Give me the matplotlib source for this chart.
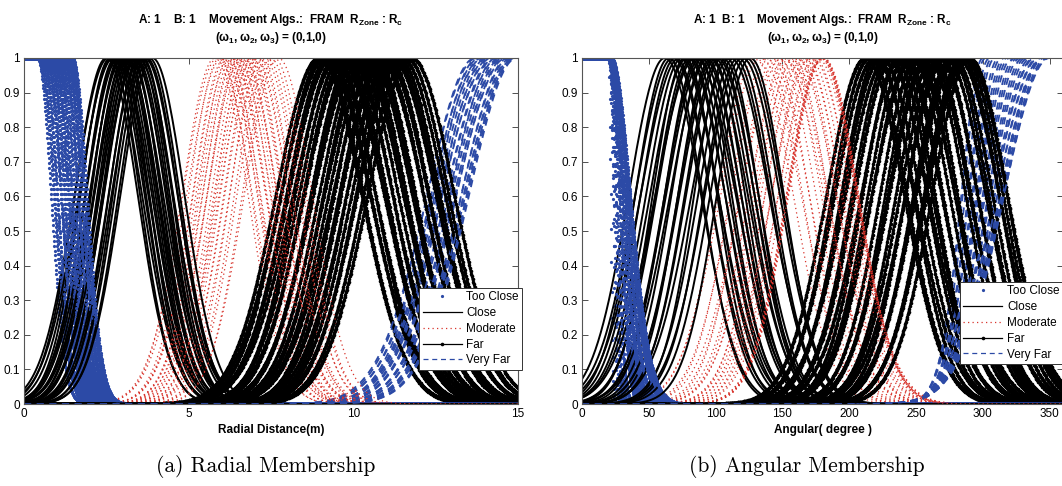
import numpy as np
import matplotlib
matplotlib.use('Agg')
import matplotlib.pyplot as plt

plt.rcParams['font.family'] = ['Liberation Sans', 'DejaVu Sans']
plt.rcParams['mathtext.fontset'] = 'custom'
plt.rcParams['mathtext.rm'] = 'Liberation Sans:bold'
plt.rcParams['mathtext.it'] = 'Liberation Sans:bold'
plt.rcParams['mathtext.bf'] = 'Liberation Sans:bold'

BLUE = '#2c4aa6'
RED = '#d8332b'

# ---- radial membership parameters (centre / spread per robot) ----
rad_tooclose_c = [0.42, 0.46, 0.52, 0.57, 0.62, 0.66, 0.70, 0.74, 0.78, 0.82, 0.86, 0.90, 0.94, 0.98,
                  1.02, 1.06, 1.10, 1.14, 1.18, 1.22, 1.25, 1.29, 1.32, 1.35, 1.38, 1.41, 1.44, 1.47]
rad_tooclose_s = [0.40, 0.44, 0.41, 0.43, 0.39, 0.45, 0.42, 0.40, 0.44, 0.41, 0.43, 0.46, 0.40, 0.42,
                  0.44, 0.39, 0.43, 0.41, 0.45, 0.42, 0.40, 0.44, 0.43, 0.41, 0.45, 0.42, 0.43, 0.44]
rad_close_c = [2.50, 2.56, 2.62, 2.68, 2.72, 2.78, 2.83, 2.88, 2.92, 2.97, 3.02, 3.06, 3.10, 3.14,
               3.18, 3.22, 3.27, 3.31, 3.36, 3.40, 3.45, 3.50, 3.55, 3.60, 3.66, 3.72, 3.80, 3.90]
rad_close_s = [0.95, 1.02, 0.90, 0.98, 1.05, 0.92, 0.97, 1.00, 0.88, 0.96, 1.03, 0.93, 0.99, 0.91,
               1.04, 0.95, 0.89, 1.01, 0.94, 0.97, 1.06, 0.92, 0.98, 0.90, 1.00, 0.95, 0.93, 0.97]
rad_moderate_c = [5.80, 5.88, 5.95, 6.02, 6.10, 6.16, 6.22, 6.28, 6.34, 6.40, 6.46, 6.52, 6.58, 6.63,
                  6.68, 6.74, 6.80, 6.86, 6.92, 6.98, 7.05, 7.12, 7.20, 7.28, 7.38, 7.48, 7.60, 7.72]
rad_moderate_s = [1.00, 1.05, 0.95, 1.08, 0.98, 1.02, 0.94, 1.06, 1.00, 0.97, 1.04, 0.96, 1.01, 1.07,
                  0.99, 0.93, 1.03, 1.00, 0.96, 1.05, 0.98, 1.02, 0.95, 1.04, 0.99, 1.01, 0.97, 1.03]
rad_far_c = [8.95, 9.05, 9.15, 9.25, 9.35, 9.45, 9.55, 9.65, 9.75, 9.85, 9.95, 10.05, 10.15, 10.25,
             10.35, 10.45, 10.55, 10.65, 10.75, 10.85, 10.95, 11.05, 11.15, 11.25, 11.35, 11.45, 11.60, 11.75]
rad_far_s = [1.30, 1.25, 1.35, 1.28, 1.32, 1.22, 1.38, 1.30, 1.27, 1.34, 1.24, 1.31, 1.36, 1.29,
             1.26, 1.33, 1.30, 1.23, 1.37, 1.28, 1.32, 1.25, 1.35, 1.30, 1.27, 1.33, 1.29, 1.31]
rad_veryfar_c = [13.70, 13.75, 13.80, 13.85, 13.90, 13.95, 14.00, 14.05, 14.10, 14.15, 14.20, 14.25, 14.30, 14.35,
                 14.40, 14.45, 14.50, 14.55, 14.60, 14.65, 14.70, 14.75, 14.80, 14.85, 14.88, 14.91, 14.94, 14.97]
rad_veryfar_s = [1.45, 1.50, 1.40, 1.48, 1.42, 1.52, 1.46, 1.41, 1.49, 1.44, 1.51, 1.43, 1.47, 1.40,
                 1.50, 1.45, 1.42, 1.48, 1.46, 1.53, 1.41, 1.47, 1.44, 1.49, 1.43, 1.50, 1.46, 1.45]

# ---- angular membership parameters (degrees) ----
ang_tooclose_c = [20, 21, 21, 22, 20, 21, 22, 21, 20, 22, 21, 21, 22, 20,
                  21, 22, 21, 20, 21, 22, 21, 20, 22, 21, 21, 22, 20, 21]
ang_tooclose_s = [1.5, 2.2, 2.6, 3.1, 3.8, 4.1, 4.7, 5.2, 5.5, 6.3, 6.6, 7.2, 7.4, 8.1,
                  8.6, 9.0, 9.7, 10.1, 10.4, 11.2, 11.5, 12.1, 12.6, 13.0, 13.4, 14.1, 14.4, 15.0]
ang_close_c = [62, 65, 68, 70, 73, 75, 77, 79, 81, 83, 85, 87, 89, 91,
               93, 95, 97, 99, 101, 103, 105, 108, 111, 114, 117, 120, 123, 126]
ang_close_s = [27, 25, 28, 26, 29, 27, 24, 28, 26, 27, 30, 25, 27, 28,
               26, 29, 25, 27, 28, 26, 27, 24, 29, 27, 26, 28, 27, 25]
ang_moderate_c = [130, 134, 138, 141, 144, 147, 150, 152, 154, 156, 158, 160, 162, 164,
                  166, 168, 170, 172, 174, 176, 178, 179.5, 180, 180.5, 179, 181, 180, 180.3]
ang_moderate_s = [28, 30, 27, 29, 26, 28, 31, 27, 29, 28, 26, 30, 28, 27,
                  29, 26, 28, 30, 27, 29, 28, 26.5, 26, 26.3, 25.8, 26.2, 26.6, 25.9]
ang_far_c = [212, 215, 219, 221, 224, 228, 230, 233, 237, 239, 242, 246, 248, 251,
             254, 258, 260, 263, 267, 269, 272, 276, 278, 281, 284, 286, 288, 290]
ang_far_s = [29, 28, 30, 27, 29, 31, 28, 29, 27, 30, 28, 29, 31, 28,
             27, 29, 30, 28, 29, 27, 30, 28, 29, 31, 28, 29, 30, 28]
ang_veryfar_c = [300, 302, 305, 307, 309, 312, 314, 316, 318, 320, 322, 324, 326, 328,
                 330, 332, 334, 336, 338, 339, 341, 342, 344, 345, 346, 348, 349, 350]
ang_veryfar_s = [16, 17, 18, 18, 19, 20, 21, 21, 22, 23, 24, 24, 25, 26,
                 26, 27, 28, 28, 29, 30, 30, 31, 31, 32, 32, 33, 33, 34]


def gauss(x, c, s):
    return np.exp(-(x - c) ** 2 / (2.0 * s ** 2))


def z_mf(x, c, s):
    y = gauss(x, c, s)
    y[x <= c] = 1.0
    return y


def s_mf(x, c, s):
    y = gauss(x, c, s)
    y[x >= c] = 1.0
    return y


def draw_panel(ax, x, xmid, xfine, tc, cl, md, fr, vf):
    h = {}
    for i in range(len(tc[0])):
        h['tc'], = ax.plot(xfine, z_mf(xfine, tc[0][i], tc[1][i]), ls='none', marker='o',
                           ms=2.3, mew=0, color=BLUE)
        h['cl'], = ax.plot(x, gauss(x, cl[0][i], cl[1][i]), '-', lw=1.4, color='k')
        h['md'], = ax.plot(x, gauss(x, md[0][i], md[1][i]), ls=(0, (1, 2.6)), lw=0.9, color=RED)
        h['fr'], = ax.plot(xmid, gauss(xmid, fr[0][i], fr[1][i]), '-', marker='o', ms=2.6,
                           mew=0, lw=1.6, color='k')
        h['vf'], = ax.plot(x, s_mf(x, vf[0][i], vf[1][i]), ls=(0, (4, 3)), lw=1.3, color=BLUE)
    return h


def style_axes(ax, xmax, xticks):
    ax.set_xlim(0, xmax)
    ax.set_ylim(0, 1)
    ax.set_xticks(xticks)
    ax.set_yticks(np.arange(0, 1.01, 0.1))
    ax.set_yticklabels(['0', '0.1', '0.2', '0.3', '0.4', '0.5', '0.6', '0.7', '0.8', '0.9', '1'])
    ax.tick_params(direction='in', top=True, right=True, length=4, width=0.6,
                   labelsize=8.5, pad=3, color='#333333')
    for sp in ax.spines.values():
        sp.set_color('#555555')
        sp.set_linewidth(0.8)


def add_legend(ax, h, anchor):
    leg = ax.legend([h['tc'], h['cl'], h['md'], h['fr'], h['vf']],
                    ['Too Close', 'Close', 'Moderate', 'Far', 'Very Far'],
                    loc='upper left', bbox_to_anchor=anchor, numpoints=1, fontsize=8.5,
                    handlelength=3.3, handletextpad=0.4, labelspacing=0.32, borderpad=0.3,
                    fancybox=False, framealpha=1, edgecolor='#333333')
    leg.get_frame().set_linewidth(0.7)
    for ln in leg.get_lines():
        ln.set_linewidth(0.9)
    leg.set_zorder(10)


fig = plt.figure(figsize=(10.62, 4.86), dpi=100)
ax1 = fig.add_axes([24 / 1062, 1 - 404 / 486, 494 / 1062, 346 / 486])
ax2 = fig.add_axes([582 / 1062, 1 - 404 / 486, 481 / 1062, 346 / 486])

xr = np.linspace(0, 15, 301)
xr_mid = np.linspace(0, 15, 751)
xr_fine = np.linspace(0, 15, 1501)
h1 = draw_panel(ax1, xr, xr_mid, xr_fine,
                (rad_tooclose_c, rad_tooclose_s), (rad_close_c, rad_close_s),
                (rad_moderate_c, rad_moderate_s), (rad_far_c, rad_far_s),
                (rad_veryfar_c, rad_veryfar_s))
style_axes(ax1, 15, [0, 5, 10, 15])
add_legend(ax1, h1, (0.788, 0.353))
ax1.set_xlabel('Radial Distance(m)', fontsize=8.5, fontweight='bold')
ax1.xaxis.set_label_coords(0.5, -0.058)
ax1.text(0.5, 1.110, r'A: 1    B: 1    Movement Algs.:  FRAM  $R_{Zone}$ : $R_c$',
         transform=ax1.transAxes, ha='center', va='center', fontsize=8.5, fontweight='bold')
ax1.text(0.5, 1.058, r'$(\omega_1,\omega_2,\omega_3)$ = (0,1,0)',
         transform=ax1.transAxes, ha='center', va='center', fontsize=8.5, fontweight='bold')
ax1.text(0.49, -0.182, '(a) Radial Membership', transform=ax1.transAxes,
         ha='center', va='center', fontsize=15.5, family='cmr10')

xa = np.linspace(0, 360, 361)
xa_mid = np.linspace(0, 360, 721)
xa_fine = np.linspace(0, 360, 1441)
h2 = draw_panel(ax2, xa, xa_mid, xa_fine,
                (ang_tooclose_c, ang_tooclose_s), (ang_close_c, ang_close_s),
                (ang_moderate_c, ang_moderate_s), (ang_far_c, ang_far_s),
                (ang_veryfar_c, ang_veryfar_s))
style_axes(ax2, 360, [0, 50, 100, 150, 200, 250, 300, 350])
add_legend(ax2, h2, (0.773, 0.370))
ax2.set_xlabel('Angular( degree )', fontsize=8.5, fontweight='bold')
ax2.xaxis.set_label_coords(0.5, -0.058)
ax2.text(0.5, 1.110, r'A: 1  B: 1    Movement Algs.:  FRAM  $R_{Zone}$ : $R_c$',
         transform=ax2.transAxes, ha='center', va='center', fontsize=8.5, fontweight='bold')
ax2.text(0.5, 1.058, r'$(\omega_1,\omega_2,\omega_3)$ = (0,1,0)',
         transform=ax2.transAxes, ha='center', va='center', fontsize=8.5, fontweight='bold')
ax2.text(0.468, -0.182, '(b) Angular Membership', transform=ax2.transAxes,
         ha='center', va='center', fontsize=15.5, family='cmr10')

fig.savefig('out.png', dpi=100)
